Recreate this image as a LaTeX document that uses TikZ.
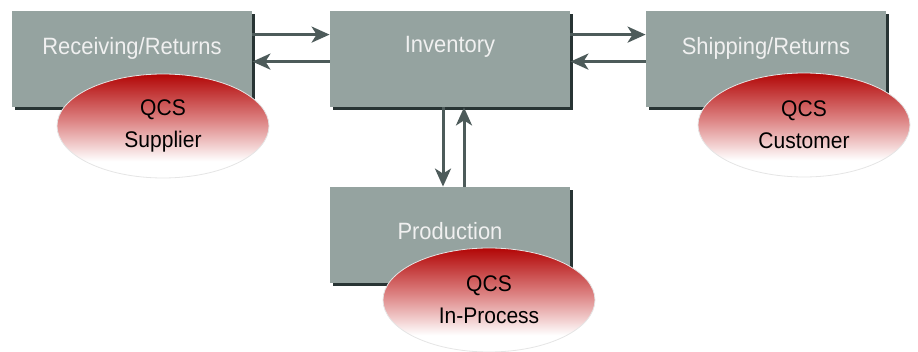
\documentclass[tikz,border=0pt]{standalone}
\usepackage{fontspec}
\setmainfont[FakeStretch=0.93]{Liberation Sans}
\usetikzlibrary{arrows.meta,calc,shapes.geometric,shadows,positioning}
\definecolor{boxgray}{RGB}{149,163,160}
\definecolor{shadowgray}{RGB}{40,52,52}
\definecolor{flowgray}{RGB}{77,91,90}
\definecolor{qcsred}{RGB}{178,6,6}
\definecolor{qcsmid}{RGB}{222,135,135}
\pgfdeclareverticalshading{qcsshade}{100bp}{color(0bp)=(white); color(33bp)=(white);
  color(52bp)=(qcsmid); color(75bp)=(qcsred); color(100bp)=(qcsred)}
\tikzset{
  box/.style={fill=boxgray,minimum width=120pt,minimum height=48pt,inner sep=0pt,
    general shadow={fill=shadowgray,shadow xshift=1.5pt,shadow yshift=-1.5pt}},
  boxtext/.style={text=white!94!black,font=\fontsize{11.8}{13}\selectfont},
  qcs/.style={ellipse,minimum width=106pt,minimum height=52pt,inner sep=0pt,
    shading=qcsshade,draw=black!10,
    align=center,font=\fontsize{11.3}{16}\selectfont},
  flow/.style={draw=flowgray,line width=1.5pt,-{Stealth[length=9pt,width=8pt,inset=2.5pt]}}
}
\begin{document}
\begin{tikzpicture}[x=0.5pt,y=-0.5pt]
\useasboundingbox (0,0) rectangle (918,352);
% flows
\node[box] (recv) at (132,59) {};
\node[box] (inv) at (450,59) {};
\node[box] (ship) at (766,59) {};
\node[box] (prod) at (450,235) {};
\draw[flow] ($(recv.north east)+(0,24)$) -- ($(inv.north west)+(0,24)$);
\draw[flow] ($(inv.north west)+(0,51)$) -- ($(recv.north east)+(0,51)$);
\draw[flow] ($(inv.north east)+(0,24)$) -- ($(ship.north west)+(0,24)$);
\draw[flow] ($(ship.north west)+(0,51)$) -- ($(inv.north east)+(0,51)$);
\draw[flow] ($(inv.south)+(-7,0)$) -- ($(prod.north)+(-7,0)$);
\draw[flow] ($(prod.north)+(14,0)$) -- ($(inv.south)+(14,0)$);
\node[boxtext] (recvlbl) at (132,48) {Receiving/Returns};
\node[boxtext] (invlbl) at (450,47) {Inventory};
\node[boxtext] (shiplbl) at (766,48) {Shipping/Returns};
\node[boxtext] (prodlbl) at (450,231) {Production};
% quality control
\node[qcs] (supp) at (163,126) {QCS\\Supplier};
\node[qcs] (cust) at (804,125) {QCS\\Customer};
\node[qcs] (inproc) at (489,300) {QCS\\In-Process};
\end{tikzpicture}
\end{document}
